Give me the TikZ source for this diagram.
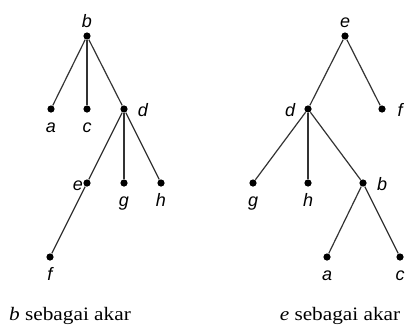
\documentclass[tikz,border=0pt]{standalone}
\usepackage{fontspec}
\setmainfont{Liberation Serif}
\setsansfont{Liberation Sans}
\newfontfamily\capfont[FakeStretch=1.12]{Liberation Serif}
\usetikzlibrary{positioning}
\tikzset{
  vtx/.style={circle,fill=black,inner sep=0pt,minimum size=3.6pt},
  lbl/.style={font=\fontsize{9}{10}\selectfont\sffamily\itshape,inner sep=0pt,anchor=base},
  tedge/.style={draw=black!80,line width=0.6pt},
  caption/.style={font=\fontsize{9.5}{11}\selectfont\capfont,inner sep=0pt,anchor=base}
}
\begin{document}
\begin{tikzpicture}[x=0.5pt,y=-0.5pt]
\useasboundingbox (0,0) rectangle (406,327);
% albero con radice b
\foreach \n/\x/\y in {lb/87/36, la/51/109, lc/87/109, ld/124/109,
  le/87/183, lg/124/183, lh/161/183, lf/50/257}{
  \node[vtx] (\n) at (\x,\y) {};
}
\foreach \u/\v in {lb/la, lb/lc, lb/ld, ld/le, ld/lg, ld/lh, le/lf}{
  \draw[tedge] (\u) -- (\v);
}
\foreach \n/\t/\x/\y in {lb/b/87/27, la/a/51/132, lc/c/87/132, ld/d/143/116,
  le/e/78/190, lg/g/124/206, lh/h/161/206, lf/f/50/280}{
  \node[lbl] (t\n) at (\x,\y) {\t};
}
% albero con radice e
\foreach \n/\x/\y in {re/345/36, rd/308/109, rf/382/109, rg/253/183,
  rh/308/183, rb/363/183, ra/327/257, rc/400/257}{
  \node[vtx] (\n) at (\x,\y) {};
}
\foreach \u/\v in {re/rd, re/rf, rd/rg, rd/rh, rd/rb, rb/ra, rb/rc}{
  \draw[tedge] (\u) -- (\v);
}
\foreach \n/\t/\x/\y in {re/e/345/27, rd/d/290/116, rf/f/400/116, rg/g/253/206,
  rh/h/308/206, rb/b/382/190, ra/a/327/280, rc/c/400/280}{
  \node[lbl] (t\n) at (\x,\y) {\t};
}
% didascalie
\node[caption] (capl) at (70,320) {\textit{b} sebagai akar};
\node[caption] (capr) at (340,320) {\textit{e} sebagai akar};
\end{tikzpicture}
\end{document}
